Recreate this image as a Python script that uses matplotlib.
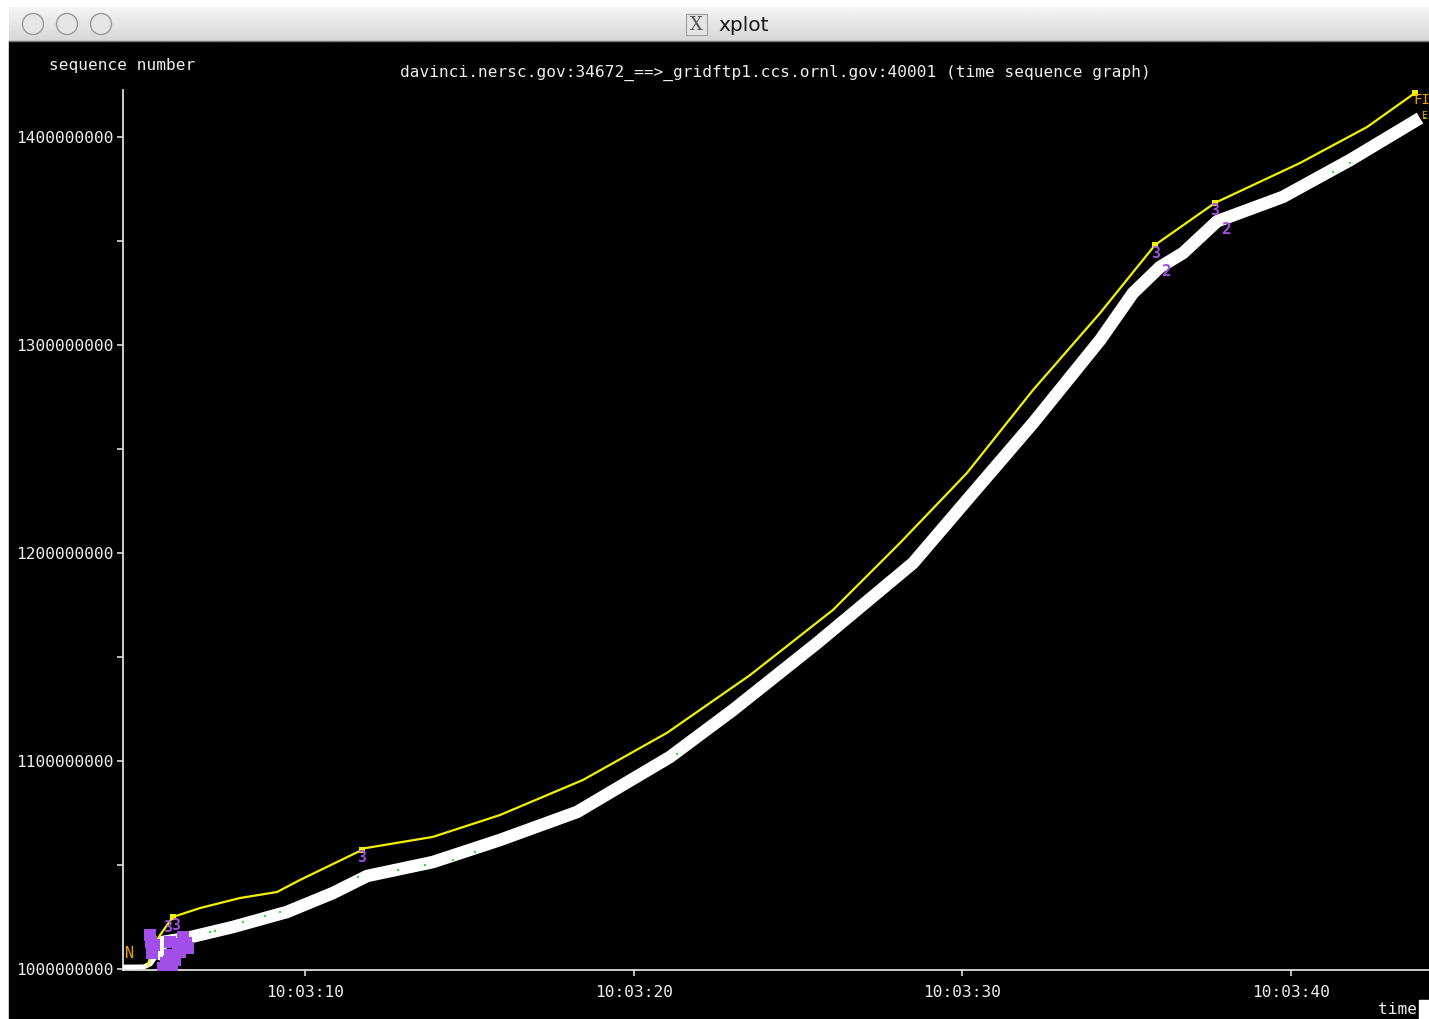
import matplotlib
matplotlib.use("Agg")
import matplotlib.pyplot as plt
import numpy as np
from matplotlib.patches import Rectangle, Circle
from matplotlib.ticker import FixedLocator, FuncFormatter

W, H = 1429, 1019
MONO = "DejaVu Sans Mono"

# --- data: time = seconds after 10:03:00, seq in millions ---
syn_t = [4.46, 5.10, 5.30, 5.45]
syn_seq = [1000.9, 1001.0, 1002.5, 1006.0]

seg_t = [5.45, 5.68, 6.41, 7.81, 9.45, 10.85, 11.89, 13.89, 15.93, 18.28, 21.10,
         23.02, 25.58, 28.50, 30.14, 32.15, 34.19, 35.19, 36.01, 36.71, 37.75,
         39.75, 41.79, 43.92]
seg_seq = [1005.0, 1013.0, 1014.9, 1020.2, 1027.4, 1036.5, 1044.7, 1051.4, 1062.0,
           1075.5, 1101.9, 1124.5, 1156.7, 1195.2, 1225.5, 1262.5, 1302.4, 1325.0,
           1337.5, 1344.2, 1359.5, 1371.2, 1388.9, 1409.1]

win_t = [5.22, 5.38, 5.59, 5.98, 6.81, 8.02, 9.15, 9.85, 11.73, 11.80, 13.89, 15.93,
         18.46, 21.01, 23.54, 26.06, 28.10, 30.14, 32.15, 34.19, 35.86, 37.68,
         40.27, 42.31, 43.77]
win_seq = [1001.9, 1010.6, 1016.3, 1025.0, 1029.3, 1034.1, 1037.0, 1042.8, 1057.2,
           1058.0, 1063.5, 1074.0, 1090.9, 1113.5, 1141.3, 1172.6, 1204.8, 1238.5,
           1278.4, 1315.4, 1348.1, 1368.3, 1387.5, 1404.8, 1421.2]

win_mark_t = [5.98, 11.73, 35.86, 37.68, 43.77]
win_mark_seq = [1025.0, 1057.2, 1348.1, 1368.3, 1421.2]

sack_t = [7.11, 7.25, 8.11, 8.78, 9.24, 11.61, 12.83, 13.65, 14.50, 15.17, 21.32,
          41.27, 41.79, 44.07]
sack_seq = [1017.8, 1018.4, 1022.6, 1025.5, 1027.4, 1044.2, 1047.6, 1050.0, 1052.4,
            1056.3, 1103.4, 1383.2, 1387.5, 1409.1]

burst_t = [5.28, 5.41, 5.35, 5.32, 5.89, 6.14, 6.38, 6.20, 5.89, 5.77, 5.68, 6.05,
           6.30, 6.45, 5.95]
burst_seq = [1016.3, 1011.5, 1007.7, 1013.0, 1013.0, 1012.0, 1012.5, 1008.2, 1006.7,
             1002.9, 1000.5, 1004.5, 1015.5, 1010.0, 1001.0]

dup3_t = [5.83, 6.05, 11.73, 35.86, 37.68]
dup3_seq = [1019.7, 1020.7, 1053.8, 1344.2, 1364.9]

rexmt_t = [36.19, 38.02]
rexmt_seq = [1335.1, 1355.3]

x_ticks = [10, 20, 30, 40]
y_ticks = [1000, 1100, 1200, 1300, 1400]
y_minor = [1050, 1150, 1250, 1350]

M = 1e6

fig = plt.figure(figsize=(W / 100, H / 100), dpi=100)

# ---------- window chrome ----------
bg = fig.add_axes([0, 0, 1, 1])
bg.set_xlim(0, W)
bg.set_ylim(H, 0)
bg.axis("off")
bg.add_patch(Rectangle((0, 0), W, H, color="white", zorder=0))
bg.add_patch(Rectangle((9, 41), W - 9, H - 41, color="black", zorder=1))
grad = np.linspace(0.96, 0.84, 40).reshape(-1, 1)
bg.imshow(grad, cmap="gray", vmin=0, vmax=1, extent=(9, W, 41, 7),
          aspect="auto", zorder=1)
bg.plot([9, W], [41, 41], color="#7a7a7a", lw=1, zorder=2)
for cx in (33, 67, 101):
    bg.add_patch(Circle((cx, 24), 10.5, facecolor="#e6e6e6", edgecolor="#9a9a9a",
                        lw=1, zorder=3))
bg.add_patch(Rectangle((686, 14), 21, 21, facecolor="#e4e4e4", edgecolor="#a0a0a0",
                       lw=0.8, zorder=3))
bg.text(696.5, 25, "X", family="DejaVu Serif", fontsize=13, color="#555555",
        ha="center", va="center", zorder=4)
bg.text(718, 25, "xplot", family="DejaVu Sans", fontsize=14.5, color="#1a1a1a",
        ha="left", va="center", zorder=4)

bg.text(49, 65, "sequence number", family=MONO, fontsize=11.6, color="#eeeeee",
        ha="left", va="center", zorder=4)
bg.text(775, 73, "davinci.nersc.gov:34672_==>_gridftp1.ccs.ornl.gov:40001 "
        "(time sequence graph)", family=MONO, fontsize=11.6, color="#eeeeee",
        ha="center", va="center", zorder=4)
bg.text(1417, 1010, "time", family=MONO, fontsize=11.6, color="#eeeeee",
        ha="right", va="center", zorder=4)
bg.add_patch(Rectangle((1419, 1000), 10, 19, color="white", zorder=4))

# ---------- plot area ----------
ax = fig.add_axes([123 / W, 1 - 970 / H, (1428 - 123) / W, (970 - 90) / H])
ax.set_facecolor("none")
ax.set_xlim(4.463, 44.164)
ax.set_ylim(999.5 * M, 1422.6 * M)

ax.plot(syn_t, np.array(syn_seq) * M, color="white", lw=3.5, zorder=3,
        solid_capstyle="butt")
ax.plot(seg_t, np.array(seg_seq) * M, color="white", lw=9, zorder=3,
        solid_capstyle="butt", solid_joinstyle="round")
ax.scatter(sack_t, np.array(sack_seq) * M, s=4, color="#22ee22", marker="s",
           lw=0, zorder=4)
ax.plot(win_t, np.array(win_seq) * M, color="#f2f200", lw=1.6, zorder=5)
ax.scatter(win_mark_t, np.array(win_mark_seq) * M, s=22, color="#f2f200",
           marker="s", lw=0, zorder=5)
ax.scatter(burst_t, np.array(burst_seq) * M, s=70, color="#a24ee8", marker="s",
           lw=0, zorder=6)
for t, q in zip(dup3_t, dup3_seq):
    ax.text(t, q * M, "3", family=MONO, fontsize=10.5, fontweight="bold",
            color="#a24ee8", ha="center", va="center", zorder=6)
for t, q in zip(rexmt_t, rexmt_seq):
    ax.text(t, q * M, "2", family=MONO, fontsize=11.5, fontweight="bold",
            color="#a24ee8", ha="center", va="center", zorder=6)

# SYN / FIN labels
ax.text(syn_t[0] + 0.05, 1007.5 * M, "N", family=MONO, fontsize=11,
        color="#f0a000", ha="left", va="center", zorder=6)
ax.text(win_t[-1] - 0.05, 1418.0 * M, "FI", family=MONO, fontsize=10,
        color="#f0a000", ha="left", va="center", zorder=6)
ax.text(seg_t[-1] + 0.02, 1410.0 * M, "E", family=MONO, fontsize=7,
        color="#f0a000", ha="left", va="center", zorder=6)

for side in ("top", "right"):
    ax.spines[side].set_visible(False)
for side in ("left", "bottom"):
    ax.spines[side].set_color("#dddddd")
    ax.spines[side].set_linewidth(1.3)

ax.xaxis.set_major_locator(FixedLocator(x_ticks))
ax.xaxis.set_major_formatter(FuncFormatter(lambda v, p: "10:03:%02d" % round(v)))
ax.yaxis.set_major_locator(FixedLocator([v * M for v in y_ticks]))
ax.yaxis.set_minor_locator(FixedLocator([v * M for v in y_minor]))
ax.yaxis.set_major_formatter(FuncFormatter(lambda v, p: "%d" % round(v)))
ax.tick_params(axis="both", which="both", colors="#dddddd", direction="out",
               length=4, width=1.2, labelsize=11.6, labelcolor="#eeeeee")
ax.tick_params(axis="y", pad=3)
ax.tick_params(axis="x", pad=7)
for lab in ax.get_xticklabels() + ax.get_yticklabels():
    lab.set_family(MONO)

fig.savefig("out.png", dpi=100, facecolor="white")
